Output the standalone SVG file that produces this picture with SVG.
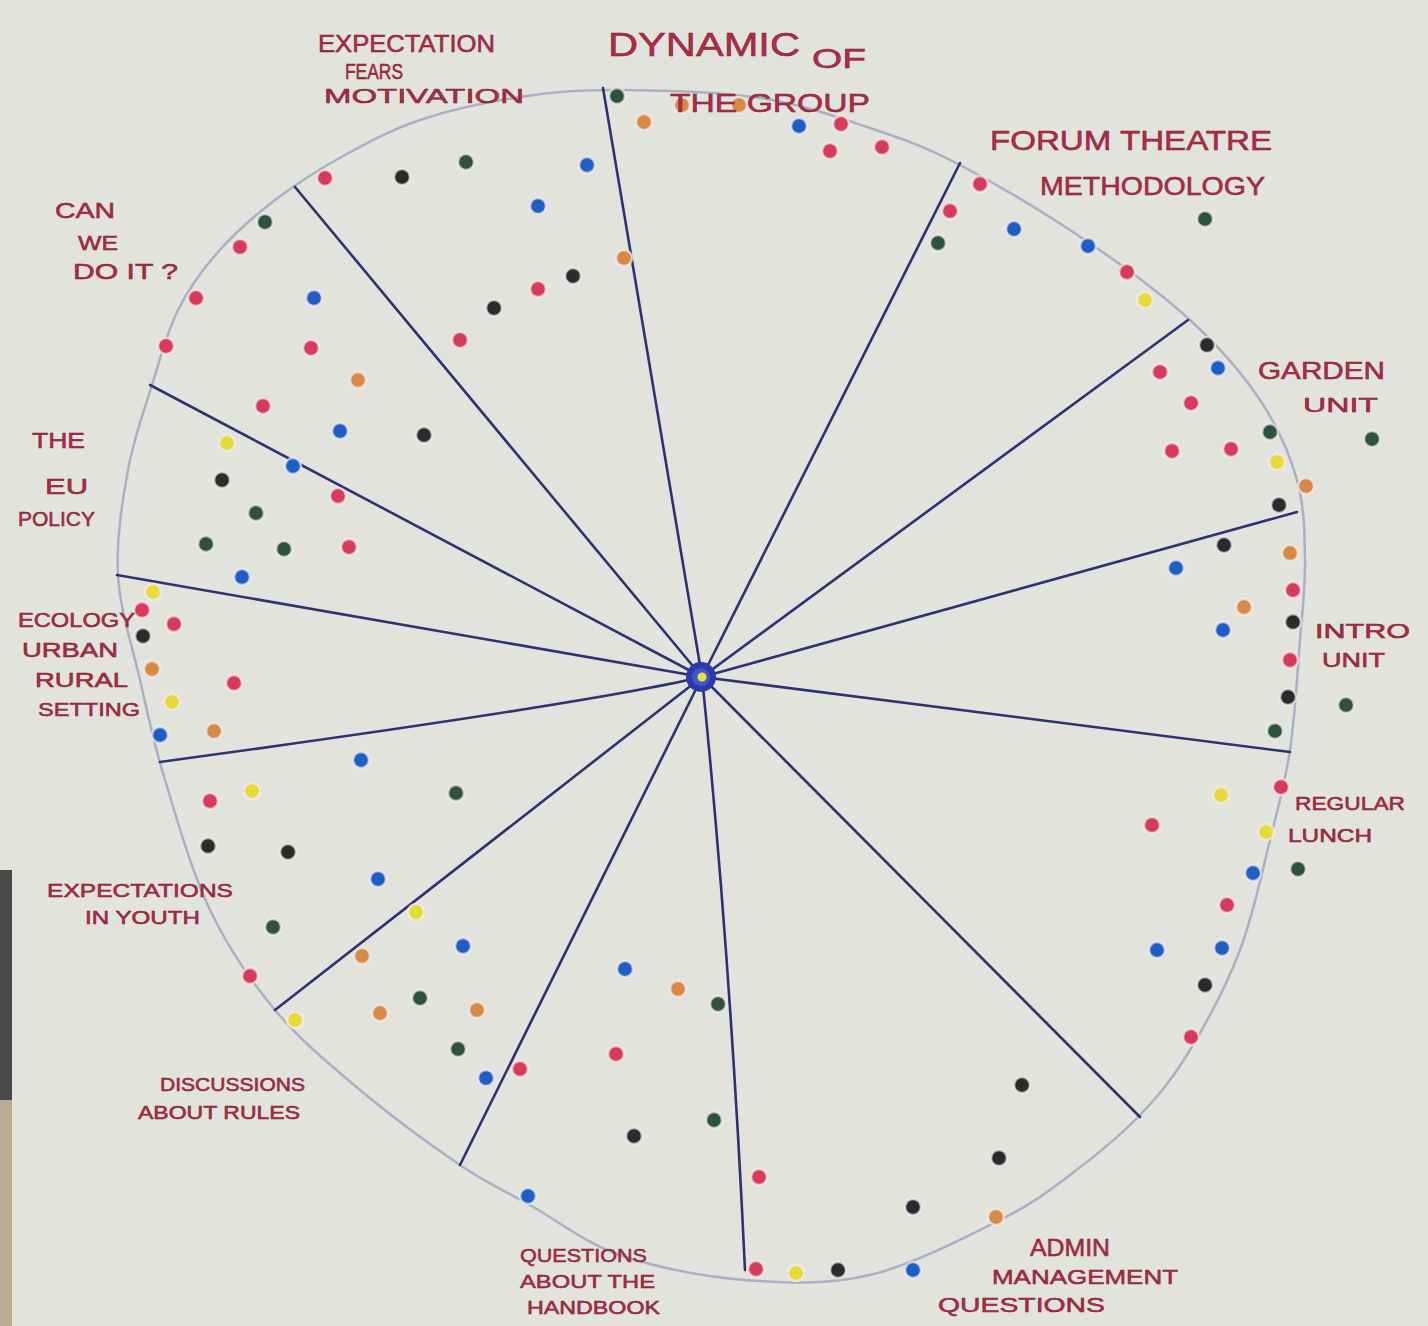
<svg xmlns="http://www.w3.org/2000/svg" width="1428" height="1326" viewBox="0 0 1428 1326">
<style>
.paper{fill:#e3e3dd}
.rim{fill:none;stroke:#a9b0c4;stroke-width:2.5;stroke-linejoin:round}
.spoke{fill:none;stroke:#2d3272;stroke-width:2.6;stroke-linecap:round}
.lbl{font-family:"Liberation Sans",Arial,sans-serif;fill:#b02c48;stroke:#7a1d30;stroke-width:0.5}
.r{fill:#d83a5c}.g{fill:#2f5240}.b{fill:#1f5ec4}.o{fill:#d98947}.y{fill:#e6d93a}.k{fill:#2b2b2e}
.dots circle{stroke:#f2eef0;stroke-width:2.5;stroke-opacity:0.7}
</style>
<rect class="paper" x="0" y="0" width="1428" height="1326"/>
<rect x="0" y="870" width="12" height="230" fill="#4a4a4a"/>
<rect x="0" y="1100" width="12" height="226" fill="#b9ab92"/>
<g id="circle">
<path class="rim" d="M617,90 C657,90.2 717.8,91.7 760,98 C802.2,104.3 836.7,116.8 870,128 C903.3,139.2 924.2,146.3 960,165 C995.8,183.7 1046.7,214.2 1085,240 C1123.3,265.8 1160.8,293.3 1190,320 C1219.2,346.7 1242.2,373.3 1260,400 C1277.8,426.7 1289.5,453.3 1297,480 C1304.5,506.7 1304.5,533.3 1305,560 C1305.5,586.7 1302.5,608.3 1300,640 C1297.5,671.7 1295,716.7 1290,750 C1285,783.3 1278.3,806.7 1270,840 C1261.7,873.3 1253.3,915 1240,950 C1226.7,985 1206.7,1022.5 1190,1050 C1173.3,1077.5 1160,1094.2 1140,1115 C1120,1135.8 1093.3,1157.5 1070,1175 C1046.7,1192.5 1033.3,1203.3 1000,1220 C966.7,1236.7 912.5,1265 870,1275 C827.5,1285 786.7,1283.3 745,1280 C703.3,1276.7 655.8,1267.5 620,1255 C584.2,1242.5 556.7,1220 530,1205 C503.3,1190 488.3,1184.2 460,1165 C431.7,1145.8 390.8,1115.8 360,1090 C329.2,1064.2 300,1040 275,1010 C250,980 228.3,948.3 210,910 C191.7,871.7 176.7,818.3 165,780 C153.3,741.7 147.8,714.2 140,680 C132.2,645.8 120,610 118,575 C116,540 122.3,501.7 128,470 C133.7,438.3 143.7,411.7 152,385 C160.3,358.3 167,332.2 178,310 C189,287.8 201.8,270.3 218,252 C234.2,233.7 253.8,216.2 275,200 C296.2,183.8 320.8,168.3 345,155 C369.2,141.7 390.8,129.7 420,120 C449.2,110.3 487.2,102 520,97 C552.8,92 577,89.8 617,90 Z"/>
</g>
<g id="connectors">
<path class="spoke" d="M702,677 L603,88"/>
<path class="spoke" d="M702,677 L960,163"/>
<path class="spoke" d="M702,677 L1188,320"/>
<path class="spoke" d="M702,677 L1297,512"/>
<path class="spoke" d="M702,677 L1290,752"/>
<path class="spoke" d="M702,677 L1140,1117"/>
<path class="spoke" d="M702,677 Q730,950 745,1270"/>
<path class="spoke" d="M702,677 L460,1165"/>
<path class="spoke" d="M702,677 L275,1010"/>
<path class="spoke" d="M702,677 Q580,705 160,762"/>
<path class="spoke" d="M702,677 L117,575"/>
<path class="spoke" d="M702,677 L150,385"/>
<path class="spoke" d="M702,677 L295,187"/>
</g>
<g id="hub">
<circle cx="701" cy="677" r="15" fill="#2c3aa8"/>
<circle cx="701" cy="677" r="9" fill="#3f58d0"/>
<circle cx="702" cy="677" r="4.5" fill="#e8e23a"/>
</g>
<g class="dots" id="dots">
<circle class="r" cx="325" cy="178" r="8"/><circle class="k" cx="402" cy="177" r="8"/><circle class="g" cx="466" cy="162" r="8"/><circle class="b" cx="587" cy="165" r="8"/><circle class="b" cx="538" cy="206" r="8"/><circle class="o" cx="624" cy="258" r="8"/><circle class="k" cx="573" cy="276" r="8"/><circle class="r" cx="538" cy="289" r="8"/><circle class="k" cx="494" cy="308" r="8"/><circle class="r" cx="460" cy="340" r="8"/>
<circle class="g" cx="617" cy="96" r="8"/><circle class="o" cx="644" cy="122" r="8"/><circle class="o" cx="682" cy="105" r="8"/><circle class="o" cx="739" cy="105" r="8"/><circle class="b" cx="799" cy="126" r="8"/><circle class="r" cx="841" cy="124" r="8"/><circle class="r" cx="830" cy="151" r="8"/><circle class="r" cx="882" cy="147" r="8"/>
<circle class="r" cx="980" cy="184" r="8"/><circle class="r" cx="950" cy="211" r="8"/><circle class="g" cx="938" cy="243" r="8"/><circle class="b" cx="1014" cy="229" r="8"/><circle class="b" cx="1088" cy="246" r="8"/><circle class="g" cx="1205" cy="219" r="8"/><circle class="r" cx="1127" cy="272" r="8"/><circle class="y" cx="1145" cy="300" r="8"/>
<circle class="k" cx="1207" cy="345" r="8"/><circle class="b" cx="1218" cy="368" r="8"/><circle class="r" cx="1160" cy="372" r="8"/><circle class="r" cx="1191" cy="403" r="8"/><circle class="r" cx="1172" cy="451" r="8"/><circle class="r" cx="1231" cy="449" r="8"/><circle class="g" cx="1270" cy="432" r="8"/><circle class="g" cx="1372" cy="439" r="8"/><circle class="y" cx="1277" cy="462" r="8"/><circle class="o" cx="1306" cy="486" r="8"/><circle class="k" cx="1279" cy="505" r="8"/>
<circle class="k" cx="1224" cy="545" r="8"/><circle class="b" cx="1176" cy="568" r="8"/><circle class="o" cx="1290" cy="553" r="8"/><circle class="r" cx="1293" cy="590" r="8"/><circle class="o" cx="1244" cy="607" r="8"/><circle class="b" cx="1223" cy="630" r="8"/><circle class="k" cx="1293" cy="622" r="8"/><circle class="r" cx="1290" cy="660" r="8"/><circle class="k" cx="1288" cy="697" r="8"/><circle class="g" cx="1346" cy="705" r="8"/><circle class="g" cx="1275" cy="731" r="8"/>
<circle class="r" cx="1281" cy="787" r="8"/><circle class="y" cx="1221" cy="795" r="8"/><circle class="r" cx="1152" cy="825" r="8"/><circle class="y" cx="1266" cy="832" r="8"/><circle class="g" cx="1298" cy="869" r="8"/><circle class="b" cx="1253" cy="873" r="8"/><circle class="r" cx="1227" cy="905" r="8"/><circle class="b" cx="1157" cy="950" r="8"/><circle class="b" cx="1222" cy="948" r="8"/><circle class="k" cx="1205" cy="985" r="8"/><circle class="r" cx="1191" cy="1037" r="8"/>
<circle class="k" cx="1022" cy="1085" r="8"/><circle class="k" cx="999" cy="1158" r="8"/><circle class="k" cx="913" cy="1207" r="8"/><circle class="o" cx="996" cy="1217" r="8"/><circle class="b" cx="913" cy="1270" r="8"/><circle class="k" cx="838" cy="1270" r="8"/><circle class="y" cx="796" cy="1273" r="8"/><circle class="r" cx="756" cy="1269" r="8"/>
<circle class="b" cx="625" cy="969" r="8"/><circle class="o" cx="678" cy="989" r="8"/><circle class="g" cx="718" cy="1004" r="8"/><circle class="r" cx="616" cy="1054" r="8"/><circle class="g" cx="714" cy="1120" r="8"/><circle class="k" cx="634" cy="1136" r="8"/><circle class="r" cx="759" cy="1177" r="8"/><circle class="b" cx="528" cy="1196" r="8"/>
<circle class="b" cx="463" cy="946" r="8"/><circle class="y" cx="416" cy="912" r="8"/><circle class="o" cx="362" cy="956" r="8"/><circle class="g" cx="420" cy="998" r="8"/><circle class="o" cx="380" cy="1013" r="8"/><circle class="o" cx="477" cy="1010" r="8"/><circle class="g" cx="458" cy="1049" r="8"/><circle class="r" cx="520" cy="1069" r="8"/><circle class="b" cx="486" cy="1078" r="8"/><circle class="r" cx="250" cy="976" r="8"/><circle class="y" cx="295" cy="1020" r="8"/>
<circle class="b" cx="361" cy="760" r="8"/><circle class="g" cx="456" cy="793" r="8"/><circle class="r" cx="210" cy="801" r="8"/><circle class="y" cx="252" cy="791" r="8"/><circle class="k" cx="208" cy="846" r="8"/><circle class="k" cx="288" cy="852" r="8"/><circle class="b" cx="378" cy="879" r="8"/><circle class="g" cx="273" cy="927" r="8"/>
<circle class="y" cx="153" cy="592" r="8"/><circle class="r" cx="142" cy="610" r="8"/><circle class="r" cx="174" cy="624" r="8"/><circle class="k" cx="143" cy="636" r="8"/><circle class="o" cx="152" cy="669" r="8"/><circle class="r" cx="234" cy="683" r="8"/><circle class="y" cx="172" cy="702" r="8"/><circle class="o" cx="214" cy="731" r="8"/><circle class="b" cx="160" cy="735" r="8"/>
<circle class="y" cx="227" cy="443" r="8"/><circle class="b" cx="293" cy="466" r="8"/><circle class="k" cx="222" cy="480" r="8"/><circle class="r" cx="338" cy="496" r="8"/><circle class="g" cx="256" cy="513" r="8"/><circle class="g" cx="206" cy="544" r="8"/><circle class="g" cx="284" cy="549" r="8"/><circle class="r" cx="349" cy="547" r="8"/><circle class="b" cx="242" cy="577" r="8"/>
<circle class="g" cx="265" cy="222" r="8"/><circle class="r" cx="240" cy="247" r="8"/><circle class="r" cx="196" cy="298" r="8"/><circle class="b" cx="314" cy="298" r="8"/><circle class="r" cx="166" cy="346" r="8"/><circle class="r" cx="311" cy="348" r="8"/><circle class="o" cx="358" cy="380" r="8"/><circle class="r" cx="263" cy="406" r="8"/><circle class="b" cx="340" cy="431" r="8"/><circle class="k" cx="424" cy="435" r="8"/>
</g>
<g id="label-expectation"><text class="lbl" font-size="23" x="318" y="52" textLength="177" lengthAdjust="spacingAndGlyphs">EXPECTATION</text><text class="lbl" font-size="22" x="345" y="79" textLength="58" lengthAdjust="spacingAndGlyphs">FEARS</text><text class="lbl" font-size="21" x="324" y="103" textLength="200" lengthAdjust="spacingAndGlyphs">MOTIVATION</text></g>
<g id="label-dynamic"><text class="lbl" font-size="34" x="608" y="56" textLength="192" lengthAdjust="spacingAndGlyphs">DYNAMIC</text><text class="lbl" font-size="28" x="812" y="68" textLength="54" lengthAdjust="spacingAndGlyphs">OF</text><text class="lbl" font-size="26" x="670" y="112" textLength="200" lengthAdjust="spacingAndGlyphs">THE GROUP</text></g>
<g id="label-forum"><text class="lbl" font-size="28" x="990" y="150" textLength="282" lengthAdjust="spacingAndGlyphs">FORUM THEATRE</text><text class="lbl" font-size="25" x="1040" y="195" textLength="225" lengthAdjust="spacingAndGlyphs">METHODOLOGY</text></g>
<g id="label-canwe"><text class="lbl" font-size="22" x="55" y="218" textLength="60" lengthAdjust="spacingAndGlyphs">CAN</text><text class="lbl" font-size="20" x="78" y="250" textLength="40" lengthAdjust="spacingAndGlyphs">WE</text><text class="lbl" font-size="22" x="73" y="279" textLength="105" lengthAdjust="spacingAndGlyphs">DO IT ?</text></g>
<g id="label-eu"><text class="lbl" font-size="22" x="32" y="448" textLength="53" lengthAdjust="spacingAndGlyphs">THE</text><text class="lbl" font-size="22" x="45" y="494" textLength="43" lengthAdjust="spacingAndGlyphs">EU</text><text class="lbl" font-size="20" x="18" y="526" textLength="77" lengthAdjust="spacingAndGlyphs">POLICY</text></g>
<g id="label-ecology"><text class="lbl" font-size="20" x="18" y="627" textLength="117" lengthAdjust="spacingAndGlyphs">ECOLOGY</text><text class="lbl" font-size="20" x="22" y="657" textLength="96" lengthAdjust="spacingAndGlyphs">URBAN</text><text class="lbl" font-size="20" x="35" y="687" textLength="93" lengthAdjust="spacingAndGlyphs">RURAL</text><text class="lbl" font-size="19" x="38" y="716" textLength="102" lengthAdjust="spacingAndGlyphs">SETTING</text></g>
<g id="label-garden"><text class="lbl" font-size="24" x="1258" y="379" textLength="127" lengthAdjust="spacingAndGlyphs">GARDEN</text><text class="lbl" font-size="21" x="1303" y="412" textLength="75" lengthAdjust="spacingAndGlyphs">UNIT</text></g>
<g id="label-intro"><text class="lbl" font-size="20" x="1315" y="638" textLength="95" lengthAdjust="spacingAndGlyphs">INTRO</text><text class="lbl" font-size="20" x="1322" y="667" textLength="63" lengthAdjust="spacingAndGlyphs">UNIT</text></g>
<g id="label-lunch"><text class="lbl" font-size="19" x="1295" y="810" textLength="110" lengthAdjust="spacingAndGlyphs">REGULAR</text><text class="lbl" font-size="18" x="1288" y="842" textLength="84" lengthAdjust="spacingAndGlyphs">LUNCH</text></g>
<g id="label-youth"><text class="lbl" font-size="19" x="47" y="897" textLength="186" lengthAdjust="spacingAndGlyphs">EXPECTATIONS</text><text class="lbl" font-size="18" x="85" y="924" textLength="115" lengthAdjust="spacingAndGlyphs">IN YOUTH</text></g>
<g id="label-discussions"><text class="lbl" font-size="18" x="160" y="1091" textLength="145" lengthAdjust="spacingAndGlyphs">DISCUSSIONS</text><text class="lbl" font-size="18" x="138" y="1119" textLength="162" lengthAdjust="spacingAndGlyphs">ABOUT RULES</text></g>
<g id="label-handbook"><text class="lbl" font-size="19" x="520" y="1262" textLength="127" lengthAdjust="spacingAndGlyphs">QUESTIONS</text><text class="lbl" font-size="19" x="520" y="1288" textLength="135" lengthAdjust="spacingAndGlyphs">ABOUT THE</text><text class="lbl" font-size="18" x="527" y="1314" textLength="133" lengthAdjust="spacingAndGlyphs">HANDBOOK</text></g>
<g id="label-admin"><text class="lbl" font-size="23" x="1030" y="1256" textLength="80" lengthAdjust="spacingAndGlyphs">ADMIN</text><text class="lbl" font-size="21" x="992" y="1284" textLength="186" lengthAdjust="spacingAndGlyphs">MANAGEMENT</text><text class="lbl" font-size="21" x="938" y="1312" textLength="167" lengthAdjust="spacingAndGlyphs">QUESTIONS</text></g>
</svg>
